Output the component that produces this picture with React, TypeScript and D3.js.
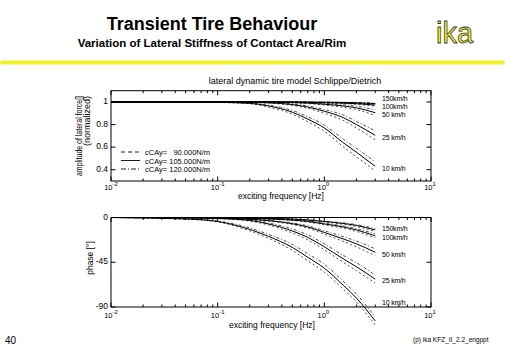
import React from "react";
import * as d3 from "d3";

// exciting frequency [Hz]
const freqs = [0.01, 0.05, 0.1, 0.2, 0.3, 0.5, 0.7, 1, 1.5, 2, 3];
const stiffness = ["  90.000", "105.000", "120.000"];
const speedLabels = ["150km/h", "100km/h", "50 km/h", "25 km/h", "10 km/h"];

// normalized amplitude, rows: cCAy = 90.000 / 105.000 / 120.000 N/m
const amp150 = [
  [1, 1, 1, 1, 1, 1, 0.998, 0.997, 0.994, 0.99, 0.981],
  [1, 1, 1, 1, 1, 1, 0.999, 0.998, 0.996, 0.993, 0.986],
  [1, 1, 1, 1, 1, 1, 0.999, 0.999, 0.997, 0.996, 0.991],
];
const amp100 = [
  [1, 1, 1, 1, 1, 0.998, 0.996, 0.992, 0.986, 0.979, 0.963],
  [1, 1, 1, 1, 1, 0.999, 0.997, 0.994, 0.99, 0.985, 0.973],
  [1, 1, 1, 1, 1, 0.999, 0.998, 0.996, 0.993, 0.99, 0.982],
];
const amp50 = [
  [1, 1, 1, 1, 0.998, 0.993, 0.986, 0.973, 0.953, 0.932, 0.88],
  [1, 1, 1, 1, 0.999, 0.995, 0.99, 0.98, 0.965, 0.948, 0.905],
  [1, 1, 1, 1, 0.999, 0.997, 0.993, 0.986, 0.975, 0.962, 0.93],
];
const amp25 = [
  [1, 1, 1, 0.996, 0.99, 0.97, 0.943, 0.9, 0.837, 0.77, 0.665],
  [1, 1, 1, 0.997, 0.993, 0.977, 0.955, 0.918, 0.862, 0.8, 0.705],
  [1, 1, 1, 0.998, 0.995, 0.983, 0.965, 0.933, 0.885, 0.828, 0.745],
];
const amp10 = [
  [1, 1, 0.996, 0.984, 0.955, 0.893, 0.825, 0.74, 0.605, 0.515, 0.39],
  [1, 1, 0.997, 0.988, 0.965, 0.91, 0.848, 0.77, 0.64, 0.555, 0.43],
  [1, 1, 0.998, 0.991, 0.972, 0.925, 0.868, 0.795, 0.672, 0.59, 0.47],
];

// phase [deg]
const ph150 = [
  [0, 0, -0.1, -0.6, -1, -1.8, -2.8, -4.5, -6.8, -9, -14],
  [0, 0, -0.1, -0.5, -0.9, -1.6, -2.5, -4, -6, -8, -12.5],
  [0, 0, -0.1, -0.4, -0.8, -1.4, -2.2, -3.6, -5.4, -7.2, -11.2],
];
const ph100 = [
  [0, 0, -0.2, -0.9, -1.6, -3, -4.6, -7.3, -10.8, -14, -20.5],
  [0, 0, -0.2, -0.8, -1.4, -2.6, -4, -6.5, -9.5, -12.5, -18.5],
  [0, 0, -0.2, -0.7, -1.2, -2.3, -3.5, -5.8, -8.5, -11.2, -16.5],
];
const ph50 = [
  [0, -0.2, -0.6, -2.1, -3.7, -7, -10.7, -16.8, -24, -29.5, -38.5],
  [0, -0.2, -0.5, -1.8, -3.2, -6.2, -9.5, -15, -21.5, -26.5, -35],
  [0, -0.2, -0.4, -1.5, -2.8, -5.4, -8.4, -13.3, -19.2, -23.7, -31.5],
];
const ph25 = [
  [0, -0.4, -1.2, -3.6, -7.5, -15.5, -22.5, -32.5, -45, -53.5, -66],
  [0, -0.3, -1, -3, -6.5, -13.5, -20, -29.5, -41.5, -49.5, -62],
  [0, -0.3, -0.8, -2.5, -5.5, -11.5, -17.5, -26.5, -38, -45.5, -58],
];
const ph10 = [
  [0, -1.7, -4.5, -13.5, -21, -33, -43.5, -55, -72, -85, -108],
  [0, -1.5, -4, -12, -19, -30, -40, -51, -68, -81, -104],
  [0, -1.3, -3.5, -10.5, -17, -27, -36.5, -47, -64, -77, -100],
];

const ampTicks = [0.4, 0.6, 0.8, 1];
const phaseTicks = [-90, -45, 0];
const decades = [-2, -1, 0, 1];

// layout
const legendDashes = ["4,3", "none", "5,2,1,2"];
const curveDashes = ["2,2.5", "none", "3,2,1,2"];
const ampLabelY = [98, 106, 114, 137, 168];
const phLabelY = [228, 237, 254, 280, 302];
const plotFont = "'Liberation Sans', Arial, sans-serif";

const x = d3.scaleLog().domain([0.01, 10]).range([111, 431]);
const yAmp = d3.scaleLinear().domain([0.3, 1.1]).range([181, 90.7]);
const yPh = d3.scaleLinear().domain([-90, 0]).range([307, 217.5]);

const minorTicks: number[] = [];
decades.slice(0, 3).forEach((d) => {
  for (let k = 2; k <= 9; k++) minorTicks.push(k * Math.pow(10, d));
});

const Panel = ({ y, series, ticks, labelY, tickFmt, decOffset }: any) => {
  const [y0, y1] = y.range();
  const x0 = x.range()[0], x1 = x.range()[1];
  const line = d3
    .line<number>()
    .x((_, i) => x(freqs[i]))
    .y((v) => y(v))
    .curve(d3.curveMonotoneX);
  return (
    <g fontFamily={plotFont}>
      <rect x={x0} y={y1} width={x1 - x0} height={y0 - y1} fill="white" stroke="black" strokeWidth={1} />
      {minorTicks.map((t) => (
        <g key={"m" + t}>
          <line x1={x(t)} x2={x(t)} y1={y0} y2={y0 - 2.5} stroke="black" />
          <line x1={x(t)} x2={x(t)} y1={y1} y2={y1 + 2.5} stroke="black" />
        </g>
      ))}
      {decades.map((d) => {
        const xp = x(Math.pow(10, d));
        return (
          <g key={"d" + d}>
            <line x1={xp} x2={xp} y1={y0} y2={y0 - 4.5} stroke="black" />
            <line x1={xp} x2={xp} y1={y1} y2={y1 + 4.5} stroke="black" />
            <text x={xp + 1.5} y={y0 + decOffset} fontSize={7.5} textAnchor="end">10</text>
            <text x={xp + 1.5} y={y0 + decOffset - 4.5} fontSize={6}>{d}</text>
          </g>
        );
      })}
      {ticks.map((t: number) => (
        <g key={"y" + t}>
          <line x1={x0} x2={x0 + 4.5} y1={y(t)} y2={y(t)} stroke="black" />
          <line x1={x1} x2={x1 - 4.5} y1={y(t)} y2={y(t)} stroke="black" />
          <text x={x0 - 3} y={y(t) + 2} fontSize={8.5} textAnchor="end">{tickFmt(t)}</text>
        </g>
      ))}
      {series.map((s: number[][], si: number) =>
        s.map((vals, ci) => (
          <path
            key={si + "-" + ci}
            d={line(vals) || ""}
            fill="none"
            stroke="black"
            strokeWidth={ci === 1 ? 1 : 0.7}
            strokeDasharray={curveDashes[ci]}
          />
        ))
      )}
      {speedLabels.map((l, i) => (
        <text key={l} x={382} y={labelY[i] + 3} fontSize={7} letterSpacing={-0.2}>{l}</text>
      ))}
    </g>
  );
};

export default function App() {
  return (
    <div style={{ position: "absolute", left: 0, top: 0 }}>
      <svg width={512} height={354} style={{ display: "block", background: "white" }}>
        <text x={212} y={30} fontSize={18} fontWeight="bold" textAnchor="middle" fontFamily="'Liberation Sans', Arial, sans-serif">
          Transient Tire Behaviour
        </text>
        <text x={212} y={47} fontSize={11.5} fontWeight="bold" textAnchor="middle" fontFamily="'Liberation Sans', Arial, sans-serif">
          Variation of Lateral Stiffness of Contact Area/Rim
        </text>
        <text x={436} y={43} fontSize={29} fill="#f4f21a" stroke="#3a3a3a" strokeWidth={0.8} fontFamily="'Liberation Sans', Arial, sans-serif">
          ika
        </text>
        <rect x={0} y={60.5} width={505} height={4} fill="#f2f22a" rx={2} />

        <text x={295} y={84} fontSize={9} textAnchor="middle" fontFamily={plotFont}>
          lateral dynamic tire model Schlippe/Dietrich
        </text>
        <text transform="translate(82,96) rotate(-90)" fontSize={8.5} textAnchor="end" fontFamily={plotFont} textLength={80} lengthAdjust="spacingAndGlyphs">
          amplitude of lateral force[]
        </text>
        <text transform="translate(90,96) rotate(-90)" fontSize={8.5} textAnchor="end" fontFamily={plotFont} textLength={50} lengthAdjust="spacingAndGlyphs">
          (normalized)
        </text>
        <text transform="translate(93,258) rotate(-90)" fontSize={8.5} textAnchor="middle" fontFamily={plotFont}>
          phase [°]
        </text>

        <Panel y={yAmp} series={[amp150, amp100, amp50, amp25, amp10]} ticks={ampTicks} labelY={ampLabelY} decOffset={9} tickFmt={(t: number) => String(t)} />
        <Panel y={yPh} series={[ph150, ph100, ph50, ph25, ph10]} ticks={phaseTicks} labelY={phLabelY} decOffset={11} tickFmt={(t: number) => (t === 0 ? "0" : "-" + Math.abs(t))} />

        <text x={281} y={199} fontSize={8.5} textAnchor="middle" fontFamily={plotFont}>exciting frequency [Hz]</text>
        <text x={272} y={328} fontSize={8.5} textAnchor="middle" fontFamily={plotFont}>exciting frequency [Hz]</text>

        <g fontFamily={plotFont} fontSize={7.5}>
          {stiffness.map((s, i) => (
            <g key={s}>
              <line x1={121} x2={140} y1={152 + i * 8.5} y2={152 + i * 8.5} stroke="black" strokeWidth={0.9} strokeDasharray={legendDashes[i]} />
              <text x={145} y={155 + i * 8.5} style={{ whiteSpace: "pre" }}>{"cCAy= " + s + "N/m"}</text>
            </g>
          ))}
        </g>

        <text x={5} y={344} fontSize={10} fontFamily="'Liberation Sans', Arial, sans-serif">40</text>
        <text x={413} y={342} fontSize={6.5} fontFamily={plotFont}>(p) ika  KFZ_II_2.2_engppt</text>
      </svg>
    </div>
  );
}
